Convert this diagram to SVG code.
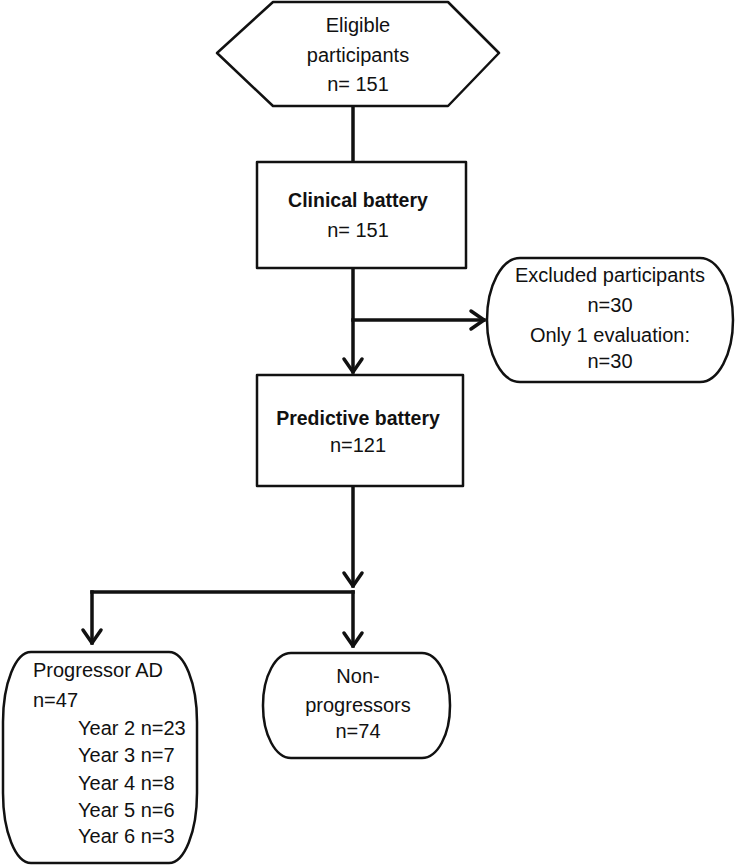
<svg xmlns="http://www.w3.org/2000/svg" width="738" height="867" viewBox="0 0 738 867">
<style>
.shape{fill:#fff;stroke:#111;stroke-width:2.5;stroke-linejoin:round}
.t{font-family:"Liberation Sans",Arial,sans-serif;font-size:20px;fill:#111}
.c{text-anchor:middle}
.b{font-weight:bold;font-size:19.5px}
.conn{fill:none;stroke:#111;stroke-width:3.5;stroke-linecap:square}
</style>
<defs>
<marker id="arr" markerUnits="userSpaceOnUse" markerWidth="30" markerHeight="30" viewBox="-16 -15 30 30" refX="0" refY="0" orient="auto">
<path d="M -13,-9 L 0,0 L -13,9" fill="none" stroke="#111" stroke-width="3.5" stroke-linejoin="round" stroke-linecap="round"/>
</marker>
</defs>
<rect width="738" height="867" fill="#fff"/>
<g id="connectors">
<line class="conn" x1="353" y1="106" x2="353" y2="162"/>
<line class="conn" x1="353" y1="268" x2="353" y2="372" marker-end="url(#arr)"/>
<line class="conn" x1="353" y1="320" x2="484" y2="320" marker-end="url(#arr)"/>
<line class="conn" x1="353" y1="486" x2="353" y2="586" marker-end="url(#arr)"/>
<line class="conn" x1="92" y1="592" x2="353" y2="592"/>
<line class="conn" x1="92" y1="592" x2="92" y2="643" marker-end="url(#arr)"/>
<line class="conn" x1="353" y1="592" x2="353" y2="646" marker-end="url(#arr)"/>
</g>
<g id="eligible">
<polygon class="shape" points="273,2 448,2 499,53 448,106 273,106 217,53"/>
<text class="t c" x="358" y="32">Eligible</text>
<text class="t c" x="358" y="62">participants</text>
<text class="t c" x="358" y="91">n= 151</text>
</g>
<g id="clinical">
<rect class="shape" x="257" y="162" width="209" height="106"/>
<text class="t c b" x="358" y="207">Clinical battery</text>
<text class="t c" x="358" y="237">n= 151</text>
</g>
<g id="excluded">
<rect class="shape" x="487" y="258" width="246" height="124" rx="33" ry="62"/>
<text class="t c" x="610" y="282">Excluded participants</text>
<text class="t c" x="610" y="312">n=30</text>
<text class="t c" x="610" y="342">Only 1 evaluation:</text>
<text class="t c" x="610" y="368">n=30</text>
</g>
<g id="predictive">
<rect class="shape" x="257" y="375" width="206" height="111"/>
<text class="t c b" x="358" y="425">Predictive battery</text>
<text class="t c" x="358" y="452">n=121</text>
</g>
<g id="progressor">
<rect class="shape" x="3" y="652" width="194" height="211" rx="28" ry="70"/>
<text class="t" x="33" y="677">Progressor AD</text>
<text class="t" x="33" y="707">n=47</text>
<text class="t" x="78" y="735">Year 2 n=23</text>
<text class="t" x="78" y="762">Year 3 n=7</text>
<text class="t" x="78" y="790">Year 4 n=8</text>
<text class="t" x="78" y="817">Year 5 n=6</text>
<text class="t" x="78" y="843">Year 6 n=3</text>
</g>
<g id="nonprogressors">
<rect class="shape" x="263" y="653" width="187" height="105" rx="28" ry="52"/>
<text class="t c" x="358" y="683">Non-</text>
<text class="t c" x="358" y="712">progressors</text>
<text class="t c" x="358" y="738">n=74</text>
</g>
</svg>
